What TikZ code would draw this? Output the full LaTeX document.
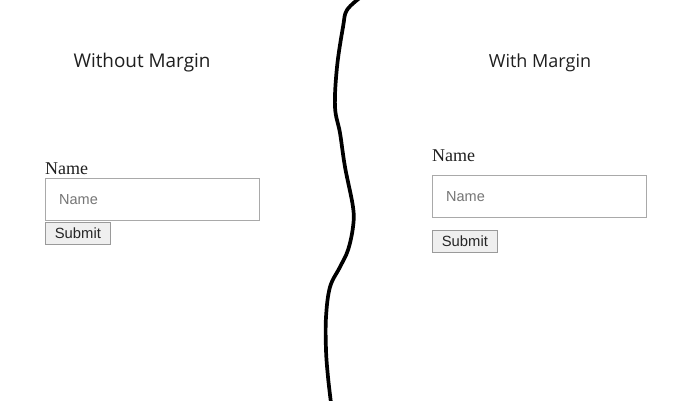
\documentclass[tikz,border=0pt]{standalone}
\usepackage{fontspec}
\setmainfont{Liberation Serif}
\newfontfamily\titlefont{Open Sans}
\newfontfamily\formfont{Liberation Sans}
\definecolor{fieldline}{HTML}{A9A9A9}
\definecolor{hintgray}{HTML}{757575}
\definecolor{btnfill}{HTML}{EFEFEF}
\definecolor{btnline}{HTML}{9A9A9A}

\begin{document}
\begin{tikzpicture}[x=1pt,y=-1pt,
	title/.style={inner sep=0,font=\titlefont\fontsize{18.9}{22}\selectfont,text=black!88},
	label/.style={anchor=base west,inner sep=0,font=\fontsize{18}{20}\selectfont,text=black!88},
	field/.style={draw=fieldline,line width=1pt,fill=white,anchor=north west,inner sep=0,minimum width=214pt,minimum height=42pt},
	hint/.style={anchor=west,inner sep=0,font=\formfont\fontsize{14.5}{16}\selectfont,text=hintgray},
	button/.style={draw=btnline,line width=0.8pt,fill=btnfill,anchor=north west,inner sep=0,minimum width=65pt,minimum height=22pt,font=\formfont\fontsize{14.8}{16}\selectfont,text=black!85}]
	\fill[white] (0,0) rectangle (700,400);
	\useasboundingbox (0,0) rectangle (700,400);
	% left side
	\node[title] (ltitle) at (142,63) {Without Margin};
	\node[label] (llabel) at (45,174) {Name};
	\node[field] (lfield) at (45,178) {};
	\node[hint] (lhint) at ([xshift=14pt]lfield.west) {Name};
	\node[button] (lbtn) at (45,222) {Submit};
	% right side
	\node[title,font=\titlefont\fontsize{18}{22}\selectfont] (rtitle) at (540,63) {With Margin};
	\node[label] (rlabel) at (432,161) {Name};
	\node[field] (rfield) at (432,175) {};
	\node[hint] (rhint) at ([xshift=14pt]rfield.west) {Name};
	\node[button] (rbtn) at (432,230) {Submit};
	% torn divider
	\draw[line width=3.7pt,line cap=round] plot[smooth,tension=0.6] coordinates {(361,-3) (347,10) (343,27) (337,67) (335,107) (340,133) (345,167) (353,207) (353,227) (348,250) (340,267) (330,287) (326,317) (326,350) (328,377) (331,403)};
\end{tikzpicture}
\end{document}
